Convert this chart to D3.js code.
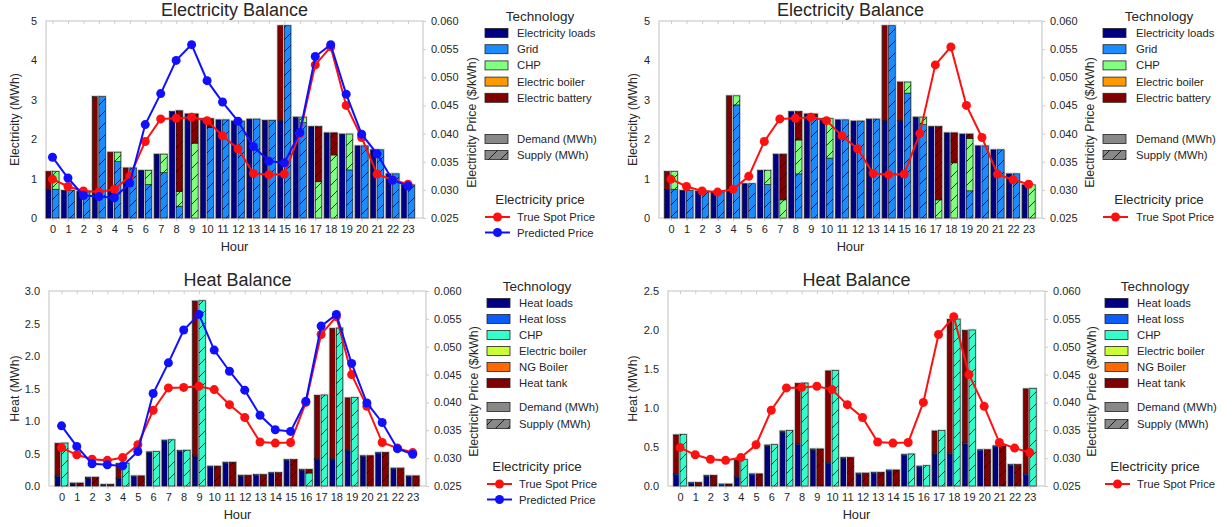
<!DOCTYPE html>
<html>
<head>
<meta charset="utf-8">
<script src="https://cdn.jsdelivr.net/npm/d3@7"></script>
<style>
body { margin: 0; background: #fff; }
text { font-family: "Liberation Sans", Arial, sans-serif; fill: #262626; }
</style>
</head>
<body>
<div id="chart"></div>
<script>
const hours = [0,1,2,3,4,5,6,7,8,9,10,11,12,13,14,15,16,17,18,19,20,21,22,23];

// electricity price ($/kWh)
const truePrice = [0.0319,0.0306,0.0298,0.0296,0.0301,0.0324,0.0386,0.0426,0.0427,0.0429,0.0423,0.0396,
                   0.0373,0.0329,0.0327,0.0328,0.0400,0.0522,0.0554,0.0450,0.0393,0.0328,0.0318,0.0310];
const predictedPrice = [0.0358,0.0321,0.0290,0.0288,0.0286,0.0312,0.0416,0.0471,0.0530,0.0558,0.0494,0.0456,
                        0.0422,0.0377,0.0351,0.0348,0.0402,0.0537,0.0558,0.0470,0.0399,0.0364,0.0317,0.0307];

// electricity balance (MWh)
const elecLoads = [0.73,0.70,0.68,0.66,0.72,0.87,1.21,1.62,2.70,2.64,2.52,2.49,2.46,2.51,2.48,2.48,2.56,2.32,2.16,2.13,1.83,1.73,1.12,0.84];
// schedule with predicted price
const battChargePred    = [0.45,0,0,2.42,0.95,0.40,0,0,0,0,0,0,0,0,0,2.40,0,0,0,0,0,0,0,0];
const gridPred          = [0.73,0.70,0.68,3.08,1.43,1.27,0.85,1.15,0.30,0,2.30,2.49,2.46,2.51,2.48,4.88,2.42,0,0,1.22,1.83,1.73,1.12,0.84];
const chpElecPred       = [0.45,0,0,0,0.24,0,0.36,0.47,0.37,1.90,0,0,0,0,0,0,0.14,0.92,1.60,0.91,0,0,0,0];
const battDischargePred = [0,0,0,0,0,0,0,0,2.05,0.74,0.22,0,0,0,0,0,0,1.40,0.56,0,0,0,0,0];
// schedule with true spot price
const battChargeSpot    = [0.45,0,0,0,2.38,0,0,0,0,0,0,0,0,0,2.40,0.97,0,0,0,0,0,0,0,0];
const gridSpot          = [0.73,0.70,0.68,0.66,2.87,0.87,0.85,0,1.12,2.58,1.52,2.49,2.46,2.51,4.88,3.17,2.37,0,0,0.69,1.83,1.73,1.12,0];
const chpElecSpot       = [0.45,0,0,0,0.23,0,0.36,0.46,0.86,0,1.00,0,0,0,0,0.28,0.19,0.46,1.40,1.33,0,0,0,0.84];
const battDischargeSpot = [0,0,0,0,0,0,0,1.16,0.72,0.06,0,0,0,0,0,0,0,1.86,0.76,0.11,0,0,0,0];

// heat balance (MWh)
const heatLoads = [0.14,0.03,0.12,0.01,0.11,0.14,0.51,0.69,0.53,0.46,0.29,0.35,0.15,0.16,0.19,0.39,0.24,0.41,0.41,0.54,0.45,0.50,0.26,0.14];
const heatLoss  = [0.015,0.015,0.015,0.015,0.015,0.015,0.015,0.015,0.015,0.015,0.015,0.015,0.015,0.015,0.015,0.015,0.015,0.015,0.015,0.015,0.015,0.015,0.015,0.015];
const tankChargePred    = [0.50,0,0,0,0.22,0,0,0,0,2.37,0,0,0,0,0,0,0,0.97,2.00,0.80,0,0,0,0];
const chpHeatPred       = [0.66,0,0,0,0.35,0,0.53,0.71,0.55,2.85,0,0,0,0,0,0,0.20,1.40,2.43,1.36,0,0,0,0];
const tankDischargePred = [0,0.045,0.135,0.025,0,0.155,0,0,0,0,0.305,0.365,0.165,0.175,0.205,0.405,0.055,0,0,0,0.465,0.515,0.275,0.155];
const tankChargeSpot    = [0.50,0,0,0,0.21,0,0,0,0.77,0,1.17,0,0,0,0,0,0,0.28,1.71,1.44,0,0,0,1.09];
const chpHeatSpot       = [0.66,0,0,0,0.34,0,0.53,0.71,1.32,0,1.48,0,0,0,0,0.41,0.26,0.71,2.14,2.00,0,0,0,1.25];
const tankDischargeSpot = [0,0.045,0.135,0.025,0,0.155,0,0,0,0.475,0,0.365,0.165,0.175,0.205,0,0,0,0,0,0.465,0.515,0.275,0];

const elecTech = ["Electricity loads", "Grid", "CHP", "Electric boiler", "Electric battery"];
const heatTech = ["Heat loads", "Heat loss", "CHP", "Electric boiler", "NG Boiler", "Heat tank"];
const elecTicks = [0, 1, 2, 3, 4, 5];
const heatTicksPred = [0, 0.5, 1, 1.5, 2, 2.5, 3];
const heatTicksSpot = [0, 0.5, 1, 1.5, 2, 2.5];
const priceTicks = [0.025, 0.030, 0.035, 0.040, 0.045, 0.050, 0.055, 0.060];

const col = {
    loads: "#000080", grid: "#1a8cff", chpE: "#80ff80", boilerE: "#ff9900", batt: "#800000",
    loss: "#0a5cff", chpH: "#33ffcc", boilerH: "#ccff33", ng: "#ff6a00", tank: "#800000",
    red: "#ff1010", blue: "#1010ff"
};
const elecTechColors = [col.loads, col.grid, col.chpE, col.boilerE, col.batt];
const heatTechColors = [col.loads, col.loss, col.chpH, col.boilerH, col.ng, col.tank];

const svg = d3.select("#chart")
    .append("svg")
    .attr("width", 1232)
    .attr("height", 527);

svg.append("defs").append("pattern")
    .attr("id", "hatch")
    .attr("patternUnits", "userSpaceOnUse")
    .attr("width", 12).attr("height", 12)
    .append("path")
    .attr("d", "M-3,3 L3,-3 M0,12 L12,0 M9,15 L15,9")
    .attr("stroke", "#000")
    .attr("stroke-width", 0.8);

const bw = 0.42;
const topLegend = { title: 16, row0: 33, step: 16.2, demand: 139, supply: 155, priceTitle: 199, price0: 217, priceStep: 15.5 };
const botLegend = { title: 286, row0: 303, step: 16, demand: 407, supply: 424, priceTitle: 466, price0: 484, priceStep: 15.5 };

const panels = [
    {
        left: 46, right: 423, top: 21, bottom: 218, xDomain: [-0.42, 23.97],
        yMax: 5, yTicks: elecTicks, yFmt: d3.format("d"),
        title: "Electricity Balance", yLabel: "Electricity (MWh)", yLabelX: 15, pLabelX: 472,
        demand: [[elecLoads, col.loads], [battChargePred, col.batt]],
        supply: [[gridPred, col.grid], [chpElecPred, col.chpE], [battDischargePred, col.batt]],
        prices: [["True Spot Price", truePrice, col.red], ["Predicted Price", predictedPrice, col.blue]],
        tech: elecTech, techColors: elecTechColors,
        lg: Object.assign({ sx: 485, lx: 517, tx: 540 }, topLegend)
    },
    {
        left: 659, right: 1042, top: 21, bottom: 218, xDomain: [-0.77, 23.86],
        yMax: 5, yTicks: elecTicks, yFmt: d3.format("d"),
        title: "Electricity Balance", yLabel: "Electricity (MWh)", yLabelX: 633, pLabelX: 1090,
        demand: [[elecLoads, col.loads], [battChargeSpot, col.batt]],
        supply: [[gridSpot, col.grid], [chpElecSpot, col.chpE], [battDischargeSpot, col.batt]],
        prices: [["True Spot Price", truePrice, col.red]],
        tech: elecTech, techColors: elecTechColors,
        lg: Object.assign({ sx: 1103, lx: 1136, tx: 1159 }, topLegend)
    },
    {
        left: 49, right: 426, top: 291, bottom: 486, xDomain: [-0.82, 23.87],
        yMax: 3, yTicks: heatTicksPred, yFmt: d3.format(".1f"),
        title: "Heat Balance", yLabel: "Heat (MWh)", yLabelX: 15, pLabelX: 474,
        demand: [[heatLoads, col.loads], [heatLoss, col.loss], [tankChargePred, col.tank]],
        supply: [[chpHeatPred, col.chpH], [tankDischargePred, col.tank]],
        prices: [["True Spot Price", truePrice, col.red], ["Predicted Price", predictedPrice, col.blue]],
        tech: heatTech, techColors: heatTechColors,
        lg: Object.assign({ sx: 487, lx: 519, tx: 537 }, botLegend)
    },
    {
        left: 668, right: 1045, top: 291, bottom: 486, xDomain: [-0.79, 24.0],
        yMax: 2.5, yTicks: heatTicksSpot, yFmt: d3.format(".1f"),
        title: "Heat Balance", yLabel: "Heat (MWh)", yLabelX: 633, pLabelX: 1092,
        demand: [[heatLoads, col.loads], [heatLoss, col.loss], [tankChargeSpot, col.tank]],
        supply: [[chpHeatSpot, col.chpH], [tankDischargeSpot, col.tank]],
        prices: [["True Spot Price", truePrice, col.red]],
        tech: heatTech, techColors: heatTechColors,
        lg: Object.assign({ sx: 1105, lx: 1137, tx: 1155 }, botLegend)
    }
];

function stackBars(g, layers, x, y, x0, hatched) {
    const rows = hours.map((h, i) => {
        const r = { h: h };
        layers.forEach((l, k) => r["k" + k] = l[0][i]);
        return r;
    });
    const keys = layers.map((l, k) => "k" + k);
    const stacked = d3.stack().keys(keys)(rows);

    // light outline around each full bar
    g.selectAll(null)
        .data(rows)
        .enter()
        .append("rect")
        .attr("x", d => x(d.h + x0) - 0.5)
        .attr("width", x(bw) - x(0) + 1)
        .attr("y", d => y(d3.sum(keys, k => d[k])) - 0.5)
        .attr("height", d => y(0) - y(d3.sum(keys, k => d[k])) + 1)
        .attr("fill", "none")
        .attr("stroke", "#c8c8c8")
        .attr("stroke-width", 1.4);

    stacked.forEach((s, k) => {
        const segs = s.filter(d => d[1] - d[0] > 0.001);
        const sel = g.selectAll(null)
            .data(segs)
            .enter();
        sel.append("rect")
            .attr("x", d => x(d.data.h + x0))
            .attr("width", x(bw) - x(0))
            .attr("y", d => y(d[1]))
            .attr("height", d => y(d[0]) - y(d[1]))
            .attr("fill", layers[k][1])
            .attr("stroke", "#111")
            .attr("stroke-width", 0.6);
        if (hatched) {
            sel.append("rect")
                .attr("x", d => x(d.data.h + x0))
                .attr("width", x(bw) - x(0))
                .attr("y", d => y(d[1]))
                .attr("height", d => y(d[0]) - y(d[1]))
                .attr("fill", "url(#hatch)");
        }
    });
}

function drawPanel(p) {
    const g = svg.append("g");

    const x = d3.scaleLinear().domain(p.xDomain).range([p.left, p.right]);
    const y = d3.scaleLinear().domain([0, p.yMax]).range([p.bottom, p.top]);
    const yP = d3.scaleLinear().domain([0.025, 0.060]).range([p.bottom, p.top]);

    // frame
    g.append("rect")
        .attr("x", p.left).attr("y", p.top)
        .attr("width", p.right - p.left).attr("height", p.bottom - p.top)
        .attr("fill", "none")
        .attr("stroke", "#cccccc")
        .attr("stroke-width", 1.2);

    // axes
    const xAxis = g.append("g")
        .attr("transform", `translate(0,${p.bottom})`)
        .call(d3.axisBottom(x).tickValues(hours).tickSize(3).tickSizeOuter(0).tickPadding(4));
    g.append("g")
        .attr("transform", `translate(0,${p.top})`)
        .call(d3.axisBottom(x).tickValues(hours).tickSize(3).tickSizeOuter(0).tickFormat(""));
    const yAxis = g.append("g")
        .attr("transform", `translate(${p.left},0)`)
        .call(d3.axisLeft(y).tickValues(p.yTicks).tickFormat(p.yFmt).tickSize(0).tickPadding(9));
    const pAxis = g.append("g")
        .attr("transform", `translate(${p.right},0)`)
        .call(d3.axisRight(yP).tickValues(priceTicks).tickFormat(d3.format(".3f")).tickSize(3).tickSizeOuter(0).tickPadding(5));

    g.selectAll(".domain").remove();
    g.selectAll(".tick line").attr("stroke", "#cccccc");
    g.selectAll(".tick text")
        .attr("font-size", 11)
        .attr("fill", "#262626")
        .attr("font-family", "Liberation Sans, Arial, sans-serif");

    // bars
    const bars = g.append("g");
    stackBars(bars, p.demand, x, y, -bw, false);
    stackBars(bars, p.supply, x, y, 0, true);

    // price lines
    p.prices.forEach(pr => {
        const pts = hours.map((h, i) => ({ h: h, v: pr[1][i] }));
        g.append("path")
            .datum(pts)
            .attr("fill", "none")
            .attr("stroke", pr[2])
            .attr("stroke-width", 2)
            .attr("d", d3.line().x(d => x(d.h)).y(d => yP(d.v)));
        g.selectAll(null)
            .data(pts)
            .enter()
            .append("circle")
            .attr("cx", d => x(d.h))
            .attr("cy", d => yP(d.v))
            .attr("r", 4.5)
            .attr("fill", pr[2]);
    });

    // titles and labels
    g.append("text")
        .attr("x", (p.left + p.right) / 2).attr("y", p.top - 5)
        .attr("text-anchor", "middle")
        .attr("font-size", 18)
        .text(p.title);
    g.append("text")
        .attr("x", (p.left + p.right) / 2).attr("y", p.bottom + 33)
        .attr("text-anchor", "middle")
        .attr("font-size", 12.8)
        .text("Hour");
    g.append("text")
        .attr("transform", `translate(${p.yLabelX + 4},${(p.top + p.bottom) / 2}) rotate(-90)`)
        .attr("text-anchor", "middle")
        .attr("font-size", 12.3)
        .text(p.yLabel);
    g.append("text")
        .attr("transform", `translate(${p.pLabelX + 4},${(p.top + p.bottom) / 2 + 3}) rotate(-90)`)
        .attr("text-anchor", "middle")
        .attr("font-size", 12.3)
        .text("Electricity Price ($/kWh)");

    // legend
    const lg = p.lg;
    const leg = svg.append("g");
    leg.append("text")
        .attr("x", lg.tx).attr("y", lg.title + 5)
        .attr("text-anchor", "middle").attr("font-size", 13.5)
        .text("Technology");
    p.tech.forEach((name, i) => {
        const yy = lg.row0 + i * lg.step;
        leg.append("rect")
            .attr("x", lg.sx).attr("y", yy - 4.5)
            .attr("width", 23).attr("height", 9)
            .attr("fill", p.techColors[i])
            .attr("stroke", "#222").attr("stroke-width", 0.8);
        leg.append("text")
            .attr("x", lg.lx).attr("y", yy + 4)
            .attr("font-size", 11.3)
            .text(name);
    });
    [["Demand (MWh)", lg.demand, false], ["Supply (MWh)", lg.supply, true]].forEach(d => {
        leg.append("rect")
            .attr("x", lg.sx).attr("y", d[1] - 4.5)
            .attr("width", 23).attr("height", 9)
            .attr("fill", "#888")
            .attr("stroke", "#222").attr("stroke-width", 0.8);
        if (d[2]) {
            leg.append("rect")
                .attr("x", lg.sx).attr("y", d[1] - 4.5)
                .attr("width", 23).attr("height", 9)
                .attr("fill", "url(#hatch)");
        }
        leg.append("text")
            .attr("x", lg.lx).attr("y", d[1] + 4)
            .attr("font-size", 11.3)
            .text(d[0]);
    });
    leg.append("text")
        .attr("x", lg.tx).attr("y", lg.priceTitle + 5)
        .attr("text-anchor", "middle").attr("font-size", 13.3)
        .text("Electricity price");
    p.prices.forEach((pr, i) => {
        const yy = lg.price0 + i * lg.priceStep;
        leg.append("line")
            .attr("x1", lg.sx).attr("x2", lg.sx + 25)
            .attr("y1", yy).attr("y2", yy)
            .attr("stroke", pr[2]).attr("stroke-width", 2);
        leg.append("circle")
            .attr("cx", lg.sx + 12.5).attr("cy", yy).attr("r", 4.5)
            .attr("fill", pr[2]);
        leg.append("text")
            .attr("x", lg.lx).attr("y", yy + 4)
            .attr("font-size", 11.3)
            .text(pr[0]);
    });
}

panels.forEach(drawPanel);
</script>
</body>
</html>
